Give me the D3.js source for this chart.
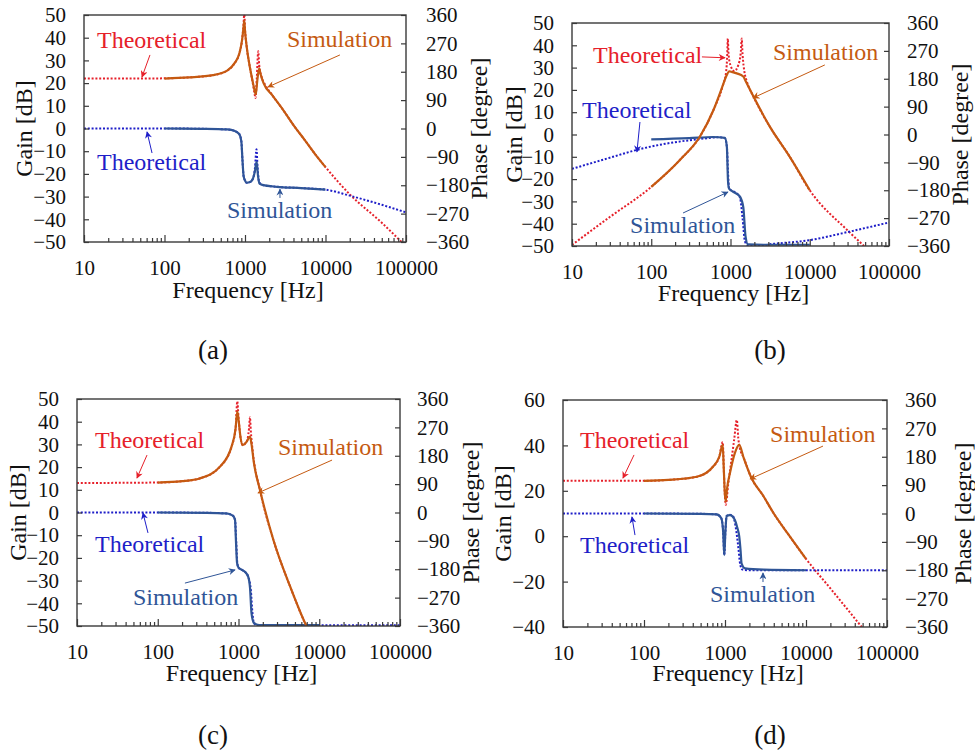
<!DOCTYPE html>
<html><head><meta charset="utf-8">
<script src="https://cdn.jsdelivr.net/npm/d3@7"></script>
<style>
body{margin:0;background:#fff}
svg{display:block}
</style>
</head><body>
<svg id="chart" width="975" height="751" font-family="'Liberation Serif', Tinos, 'Times New Roman', 'DejaVu Serif', 'Noto Serif', serif"></svg>
<script>
// ---------------- DATA ----------------
const freqTicks = [10, 100, 1000, 10000, 100000];
const minorFreqTicks = [20,30,40,50,60,70,80,90,200,300,400,500,600,700,800,900,2000,3000,4000,5000,6000,7000,8000,9000,20000,30000,40000,50000,60000,70000,80000,90000];
const gainTicksABC = [50, 40, 30, 20, 10, 0, -10, -20, -30, -40, -50];
const gainTicksD = [60, 40, 20, 0, -20, -40];
const phaseTicks = [360, 270, 180, 90, 0, -90, -180, -270, -360];
const panelLabels = ["(a)", "(b)", "(c)", "(d)"];
const textTheoretical = "Theoretical";
const textSimulation = "Simulation";

// panel (a)  [frequency Hz, gain dB] / [frequency Hz, phase deg]
const aGainTheory = [[10,22],[30,22],[100,22.1],[200,22.5],[400,23.5],[600,25.5],[750,29],[850,33],[920,39],[960,46],[980,51],[1000,44],[1050,36],[1150,27],[1250,20],[1320,15],[1350,13.4],[1400,22],[1460,34],[1500,28],[1600,23],[1800,19],[2200,14.5],[3000,8],[4000,1.5],[5500,-5],[7500,-11.5],[10000,-17],[20000,-29],[50000,-41.5],[100000,-52]];
const aGainSim = [[100,22],[200,22.5],[400,23.5],[600,25.5],[750,29],[850,33],[920,39],[955,44],[980,47.5],[1000,43],[1050,36],[1150,27],[1250,20.5],[1320,16.5],[1360,15],[1420,21],[1500,26.5],[1560,24],[1700,20],[2200,14.5],[3000,8],[4000,1.5],[5500,-5],[7500,-11.5],[10000,-17]];
const aPhaseTheory = [[10,0],[100,0],[300,-1],[600,-3],[750,-8],[850,-18],[900,-40],[930,-100],[960,-150],[1000,-165],[1050,-172],[1150,-170],[1250,-160],[1330,-125],[1390,-66],[1430,-120],[1500,-170],[1650,-179],[2500,-185],[5000,-189],[10000,-194],[20000,-213],[50000,-242],[100000,-266]];
const aPhaseSim = [[100,0],[300,-1],[600,-3],[750,-8],[850,-18],[900,-40],[930,-100],[960,-150],[1000,-165],[1050,-172],[1150,-170],[1250,-160],[1330,-135],[1395,-105],[1450,-150],[1520,-175],[1650,-179],[2500,-185],[5000,-189],[10000,-194]];

// panel (b)
const bGainTheory = [[10,-49.5],[30,-37],[100,-23.5],[230,-11.4],[410,-1],[610,11],[800,22],[880,28],[910,36],[925,43],[945,36],[1000,31],[1117,28.5],[1250,31],[1350,37],[1385,43],[1420,36],[1500,28],[1600,24],[1950,17],[3150,3.4],[5600,-10],[10000,-25],[30000,-43],[50000,-50.5],[100000,-61]];
const bGainSim = [[100,-23.5],[230,-11.4],[410,-1],[610,11],[800,22],[880,26],[967,28.3],[1050,28],[1200,27.4],[1450,26],[1550,24],[1950,17],[3150,3.4],[5600,-10],[10000,-25]];
const bPhaseTheory = [[10,-111],[30,-75],[65,-50],[150,-30],[400,-15],[700,-9],[850,-12],[900,-40],[930,-120],[960,-175],[1050,-182],[1200,-190],[1320,-205],[1420,-270],[1520,-345],[1650,-357],[2500,-357],[3500,-353],[10000,-341],[30000,-315],[100000,-284]];
const bPhaseSim = [[100,-16],[300,-12],[600,-8],[850,-11],[900,-40],[930,-150],[960,-175],[1050,-183],[1200,-192],[1320,-201],[1450,-235],[1550,-330],[1660,-355],[3000,-356],[10000,-356]];

// panel (c)
const cGainTheory = [[10,13],[100,13.2],[200,13.8],[330,15],[590,20.2],[820,29],[920,37],[966,49],[1000,42],[1060,33],[1127,29.7],[1250,31],[1350,37],[1387,42],[1420,36],[1500,27],[1845,9.9],[2700,-12],[4370,-32.7],[7000,-50.3],[10000,-60],[100000,-110]];
const cGainSim = [[100,13.2],[200,13.8],[330,15],[590,20.2],[820,29],[920,37],[966,44.4],[1000,41],[1060,33],[1127,29.7],[1250,31],[1387,33.4],[1450,30],[1550,22],[1845,9.9],[2700,-12],[4370,-32.7],[7000,-50.3],[10000,-60]];
const cPhaseTheory = [[10,0],[100,0],[400,-1],[700,-3],[850,-10],[906,-24],[940,-100],[966,-160],[1000,-175],[1100,-182],[1200,-188],[1320,-204],[1420,-245],[1490,-320],[1560,-352],[1700,-358],[100000,-358]];
const cPhaseSim = [[100,0],[400,-1],[700,-3],[850,-10],[906,-24],[930,-90],[960,-160],[1000,-175],[1100,-182],[1200,-188],[1320,-204],[1390,-240],[1450,-320],[1550,-350],[1800,-357],[10000,-357]];

// panel (d)
const dGainTheory = [[10,24.4],[100,24.4],[200,24.8],[450,26.2],[710,30.6],[850,35],[937,41.5],[970,28],[1000,17],[1021,13.8],[1100,23.4],[1200,33.4],[1300,42.8],[1400,51.2],[1460,43],[1520,39],[1683,35],[2100,26],[3000,17.5],[4000,10],[6000,1],[10000,-10],[20000,-23],[50000,-40.5],[100000,-54]];
const dGainSim = [[100,24.4],[200,24.8],[450,26.2],[710,30.6],[850,35],[937,40.2],[965,30],[995,19],[1021,15.3],[1060,21],[1150,27.7],[1320,36.5],[1500,40.2],[1683,35],[2100,26],[3000,17.5],[4000,10],[6000,1],[10000,-10]];
const dPhaseTheory = [[10,0],[100,0],[500,-1],[790,-3],[900,-15],[950,-60],[980,-132],[1010,-60],[1047,-8],[1150,-4],[1250,-8],[1350,-40],[1450,-100],[1550,-165],[1650,-178],[2000,-180],[100000,-180]];
const dPhaseSim = [[100,0],[500,-1],[790,-3],[900,-15],[950,-60],[980,-132],[1010,-60],[1047,-8],[1150,-5],[1320,-20],[1420,-45],[1500,-73],[1560,-120],[1600,-158],[1770,-174],[3000,-178],[10000,-180]];

// ---------------- STYLE ----------------
const C = {
  red: "#e6202a",
  orange: "#c55a11",
  blue: "#1e1ec8",
  steel: "#2f5597",
  axis: "#3a3a3a",
  text: "#111"
};

// ---------------- LAYOUT ----------------
const panels = [
  { label: panelLabels[0], l: 84, r: 406, t: 15, b: 242, gDom: [-50, 50], gTicks: gainTicksABC,
    gainT: aGainTheory, gainS: aGainSim, phT: aPhaseTheory, phS: aPhaseSim, rPad: 20,
    gainTitleX: 24, phaseTitleX: 479, freqTitleY: 298, labelX: 213, labelY: 359,
    ann: [
      { t: textTheoretical, c: C.red, at: [14.5, 35.5], arrow: [66, 32.4, 52.5, 22.7] },
      { t: textSimulation, c: C.orange, at: [3320, 35.9], arrow: [15100, 32.4, 1930, 18.3] },
      { t: textTheoretical, c: C.blue, at: [14.5, -18.3], arrow: [70, -10.8, 60.7, -1.5] },
      { t: textSimulation, c: C.steel, at: [597, -39.4], arrow: [2720, -30.6, 2720, -26.7] }
    ] },
  { label: panelLabels[1], l: 572, r: 889, t: 23, b: 246, gDom: [-50, 50], gTicks: gainTicksABC,
    gainT: bGainTheory, gainS: bGainSim, phT: bPhaseTheory, phS: bPhaseSim, rPad: 18,
    gainTitleX: 514, phaseTitleX: 960, freqTitleY: 301, labelX: 770, labelY: 359,
    ann: [
      { t: textTheoretical, c: C.red, at: [18.4, 32.1], arrow: [436, 34.8, 853, 34.4] },
      { t: textSimulation, c: C.orange, at: [3440, 33.4], arrow: [15500, 31.2, 1925, 16.4] },
      { t: textTheoretical, c: C.blue, at: [13.4, 7.4], arrow: [72, 5.6, 66, -7.8] },
      { t: textSimulation, c: C.steel, at: [54, -44.2], arrow: [252, -35.2, 929, -25.8] }
    ] },
  { label: panelLabels[2], l: 77, r: 400, t: 399, b: 626, gDom: [-50, 50], gTicks: gainTicksABC,
    gainT: cGainTheory, gainS: cGainSim, phT: cPhaseTheory, phS: cPhaseSim, rPad: 17,
    gainTitleX: 18, phaseTitleX: 471, freqTitleY: 681, labelX: 213, labelY: 744,
    ann: [
      { t: textTheoretical, c: C.red, at: [16.7, 28.4], arrow: [73.6, 25.3, 55.3, 15.2] },
      { t: textSimulation, c: C.orange, at: [3080, 25.3], arrow: [14400, 23.1, 1742, 8.6] },
      { t: textTheoretical, c: C.blue, at: [16.7, -17.4], arrow: [75.7, -9.0, 65.6, -0.2] },
      { t: textSimulation, c: C.steel, at: [49.3, -40.7], arrow: [217, -31.1, 906, -25.3] }
    ] },
  { label: panelLabels[3], l: 563, r: 887, t: 400, b: 627, gDom: [-40, 60], gTicks: gainTicksD,
    gainT: dGainTheory, gainS: dGainSim, phT: dPhaseTheory, phS: dPhaseSim, rPad: 18,
    gainTitleX: 503, phaseTitleX: 963, freqTitleY: 681, labelX: 770, labelY: 744,
    ann: [
      { t: textTheoretical, c: C.red, at: [16.2, 38.9], arrow: [75.3, 35.8, 55, 25.6] },
      { t: textSimulation, c: C.orange, at: [3600, 41.5], arrow: [16200, 39.7, 2040, 25.2] },
      { t: textTheoretical, c: C.blue, at: [16.2, -7.4], arrow: [77.4, 0.5, 71, 8.5] },
      { t: textSimulation, c: C.steel, at: [653, -29], arrow: [2945, -20.2, 2945, -16.2] }
    ] }
];

const FONT = "'Liberation Serif', Tinos, 'Times New Roman', 'DejaVu Serif', 'Noto Serif', serif";
const svg = d3.select("#chart");
const defs = svg.append("defs");
[["red", C.red], ["orange", C.orange], ["blue", C.blue], ["steel", C.steel]].forEach(([n, col]) => {
  defs.append("marker").attr("id", "ah-" + n)
    .attr("viewBox", "0 0 10 10").attr("refX", 9).attr("refY", 5)
    .attr("markerWidth", 8).attr("markerHeight", 7).attr("markerUnits", "userSpaceOnUse")
    .attr("orient", "auto")
    .append("path").attr("d", "M0,0 L10,5 L0,10 L3,5 Z").attr("fill", col);
});
const markerFor = col => col === C.red ? "ah-red" : col === C.orange ? "ah-orange" : col === C.blue ? "ah-blue" : "ah-steel";

panels.forEach((p, i) => {
  const g = svg.append("g").attr("font-family", FONT);
  const x = d3.scaleLog().domain([10, 100000]).range([p.l, p.r]);
  const yG = d3.scaleLinear().domain(p.gDom).range([p.b, p.t]);
  const yP = d3.scaleLinear().domain([-360, 360]).range([p.b, p.t]);

  const clipId = "clip" + i;
  defs.append("clipPath").attr("id", clipId).append("rect")
    .attr("x", p.l).attr("y", p.t - 1).attr("width", p.r - p.l).attr("height", p.b - p.t + 1);

  const lineG = d3.line().x(d => x(d[0])).y(d => yG(d[1])).curve(d3.curveMonotoneX);
  const lineP = d3.line().x(d => x(d[0])).y(d => yP(d[1])).curve(d3.curveMonotoneX);

  const plot = g.append("g").attr("clip-path", `url(#${clipId})`);
  plot.append("path").attr("d", lineG(p.gainT)).attr("fill", "none")
    .attr("stroke", C.red).attr("stroke-width", 2).attr("stroke-dasharray", "2,1.8");
  plot.append("path").attr("d", lineP(p.phT)).attr("fill", "none")
    .attr("stroke", C.blue).attr("stroke-width", 2).attr("stroke-dasharray", "2,1.8");
  plot.append("path").attr("d", lineP(p.phS)).attr("fill", "none")
    .attr("stroke", C.steel).attr("stroke-width", 2.2);
  plot.append("path").attr("d", lineG(p.gainS)).attr("fill", "none")
    .attr("stroke", C.orange).attr("stroke-width", 2.2);

  // axes
  const styleAxis = sel => {
    sel.attr("font-family", FONT);
    sel.select(".domain").remove();
    sel.selectAll(".tick line").attr("stroke", C.axis).attr("stroke-width", 1.2);
    sel.selectAll(".tick text").attr("font-size", 21).attr("fill", C.text);
  };
  g.append("g").attr("transform", `translate(0,${p.b})`)
    .call(d3.axisBottom(x).tickValues(freqTicks).tickFormat(d3.format("d")).tickSize(-7).tickPadding(18))
    .call(styleAxis);
  g.append("g").attr("transform", `translate(0,${p.b})`)
    .call(d3.axisBottom(x).tickValues(minorFreqTicks).tickFormat("").tickSize(-4))
    .call(styleAxis);
  g.append("g").attr("transform", `translate(${p.l},0)`)
    .call(d3.axisLeft(yG).tickValues(p.gTicks).tickFormat(d3.format("d")).tickSize(-5).tickPadding(18))
    .call(styleAxis);
  g.append("g").attr("transform", `translate(${p.r},0)`)
    .call(d3.axisRight(yP).tickValues(phaseTicks).tickFormat(d3.format("d")).tickSize(-5).tickPadding(p.rPad))
    .call(styleAxis);

  g.append("rect").attr("x", p.l).attr("y", p.t).attr("width", p.r - p.l).attr("height", p.b - p.t)
    .attr("fill", "none").attr("stroke", C.axis).attr("stroke-width", 1.4);

  // titles
  const cy = (p.t + p.b) / 2;
  g.append("text").attr("transform", `translate(${p.gainTitleX},${cy}) rotate(-90)`)
    .attr("text-anchor", "middle").attr("dy", "0.33em").attr("font-size", 24).attr("fill", C.text)
    .text("Gain [dB]");
  g.append("text").attr("transform", `translate(${p.phaseTitleX},${cy}) rotate(-90)`)
    .attr("text-anchor", "middle").attr("dy", "0.33em").attr("font-size", 24).attr("fill", C.text)
    .text("Phase [degree]");
  g.append("text").attr("x", (p.l + p.r) / 2 + 3).attr("y", p.freqTitleY)
    .attr("text-anchor", "middle").attr("font-size", 24).attr("fill", C.text)
    .text("Frequency [Hz]");
  g.append("text").attr("x", p.labelX).attr("y", p.labelY)
    .attr("text-anchor", "middle").attr("font-size", 27).attr("fill", C.text)
    .text(p.label);

  // annotations
  p.ann.forEach(a => {
    g.append("text").attr("x", x(a.at[0])).attr("y", yG(a.at[1]))
      .attr("font-size", 24).attr("fill", a.c).text(a.t);
    g.append("line")
      .attr("x1", x(a.arrow[0])).attr("y1", yG(a.arrow[1]))
      .attr("x2", x(a.arrow[2])).attr("y2", yG(a.arrow[3]))
      .attr("stroke", a.c).attr("stroke-width", 1)
      .attr("marker-end", `url(#${markerFor(a.c)})`);
  });
});
</script>
</body></html>
